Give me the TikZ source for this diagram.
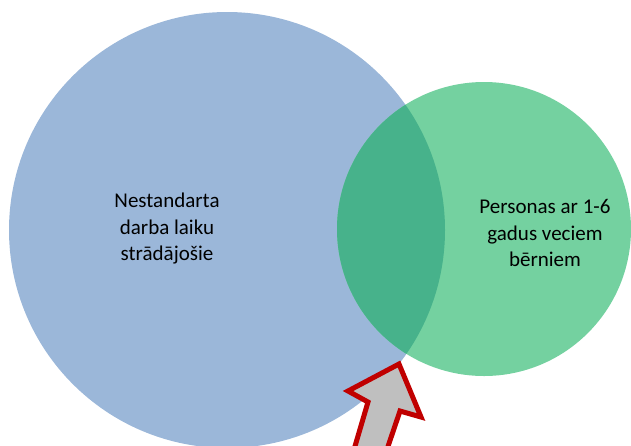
\documentclass[tikz,border=0pt]{standalone}
\usepackage{fontspec}
\setmainfont{Carlito}
\begin{document}
\begin{tikzpicture}[x=1pt,y=-1pt]
\definecolor{vblue}{HTML}{9BB7D9}
\definecolor{vgreen}{HTML}{74D1A0}
\definecolor{vover}{HTML}{47B28B}
\definecolor{arrred}{HTML}{C00000}
\definecolor{arrgray}{HTML}{BFBFBF}
\tikzset{
  lbl/.style={align=center, font=\fontsize{21}{26.5}\selectfont, text=black, inner sep=0pt},
  bigarrow/.style={draw=arrred, fill=arrgray, line width=5pt, line join=miter}
}
\useasboundingbox (0,0) rectangle (631,445);
\begin{scope}
  \clip (0,0) rectangle (631,445);
  \fill[vblue] (227,230) circle (218pt);
  \fill[vgreen] (484,229) circle (147pt);
  \begin{scope}
    \clip (227,230) circle (218pt);
    \fill[vover] (484,229) circle (147pt);
  \end{scope}
  \draw[bigarrow] (399,364) -- (348,391) -- (368,402) -- (348,470) -- (380,470) -- (400,411) -- (421,417) -- cycle;
\end{scope}
\node[lbl] (left) at (167,229) {Nestandarta\\darba laiku\\strādājošie};
\node[lbl] (right) at (545,233) {Personas ar 1-6\\gadus veciem\\bērniem};
\end{tikzpicture}
\end{document}
